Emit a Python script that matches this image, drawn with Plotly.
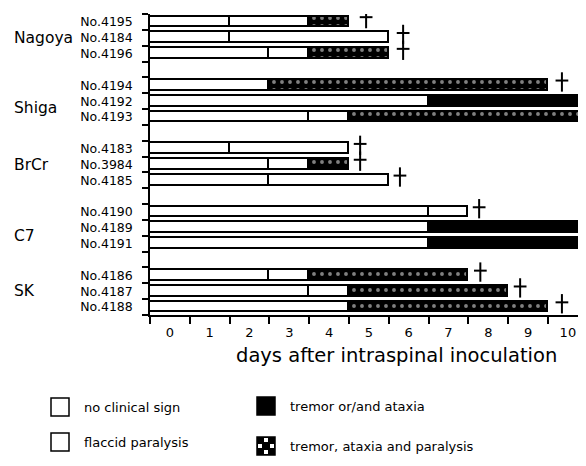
import plotly.graph_objects as go

# ---------------- data ----------------
groups = ["Nagoya", "Shiga", "BrCr", "C7", "SK"]
animals = [
    ["No.4195", "No.4184", "No.4196"],
    ["No.4194", "No.4192", "No.4193"],
    ["No.4183", "No.3984", "No.4185"],
    ["No.4190", "No.4189", "No.4191"],
    ["No.4186", "No.4187", "No.4188"],
]
# duration (days) of each clinical state, animals in row order (top to bottom)
no_sign = [2, 2, 3, 3, 7, 4, 2, 3, 3, 7, 7, 7, 3, 4, 5]
flaccid = [2, 4, 1, None, None, 1, 3, 1, 3, 1, None, None, 1, 1, None]
tremor = [None, None, None, None, 4, None, None, None, None, None, 4, 4, None, None, None]
tremor_par = [1, None, 2, 7, None, 6, None, 1, None, None, None, None, 4, 4, 5]
# position of the death mark (+) on the day axis
death_x = [5.43, 6.36, 6.36, 10.35, None, None, 5.28, 5.28, 6.28, 8.27, None, None, 8.3, 9.3, 10.35]
days = list(range(0, 11))

legend_items = ["no clinical sign", "flaccid paralysis", "tremor or/and ataxia", "tremor, ataxia and paralysis"]

# ---------------- layout constants ----------------
OFF = 8                      # page body margin of the html page
W, H = 586 - OFF, 466 - OFF
L, R, T, B = 150 - OFF, 0, 14 - OFF, 466 - 315
PW, PH = W - L - R, H - T - B
XMAX = 10.955
NSLOT = 19
FONT = "DejaVu Sans"
GROUP_LABEL_SHIFT = [0, 0.45, 0, 0.5, 0]   # vertical nudge of group names (in rows)

def px2paper(px, py):
    """reference-picture pixel -> paper coordinates"""
    return (px - OFF - L) / PW, (H + OFF - B - py) / PH

labels, ypos = [], []
for g, names in enumerate(animals):
    for r, n in enumerate(names):
        labels.append(n)
        ypos.append(4 * g + r + 0.5)

fig = go.Figure()
line = dict(color="black", width=1.7)
BW = 0.68
fig.add_trace(go.Bar(y=ypos, x=no_sign, orientation="h", width=BW, name=legend_items[0],
                     marker=dict(color="white", line=line), showlegend=False))
fig.add_trace(go.Bar(y=ypos, x=flaccid, orientation="h", width=BW, name=legend_items[1],
                     marker=dict(color="white", line=line), showlegend=False))
fig.add_trace(go.Bar(y=ypos, x=tremor, orientation="h", width=BW, name=legend_items[2],
                     marker=dict(color="black", line=line), showlegend=False))
fig.add_trace(go.Bar(y=ypos, x=tremor_par, orientation="h", width=BW, name=legend_items[3],
                     marker=dict(color="black", line=line,
                                 pattern=dict(shape=".", bgcolor="black", fgcolor="white",
                                              size=8, solidity=0.18)),
                     showlegend=False))

# death crosses
cx, cy = [], []
for d, c in zip(death_x, ypos):
    if d is None:
        continue
    cx += [d, d, None, d - 0.16, d + 0.16, None]
    cy += [c - 0.82, c + 0.4, None, c - 0.3, c - 0.3, None]
fig.add_trace(go.Scatter(x=cx, y=cy, mode="lines", line=dict(color="black", width=2),
                         showlegend=False, hoverinfo="skip", cliponaxis=False))

fig.update_layout(
    width=W, height=H, margin=dict(l=L, r=R, t=T, b=B, autoexpand=False),
    paper_bgcolor="white", plot_bgcolor="white", barmode="stack", bargap=0,
    font=dict(family=FONT, color="black"),
    showlegend=False,
)
fig.update_xaxes(
    range=[0, XMAX], showgrid=False, zeroline=False, showline=True, linecolor="black", linewidth=1.5,
    tickmode="array", tickvals=[d + 0.5 for d in days], ticktext=[str(d) for d in days],
    ticks="", tickfont=dict(size=13, family=FONT), ticklabelstandoff=5,
    minor=dict(tickmode="array", tickvals=list(range(0, 12)), ticks="outside", ticklen=7,
               tickwidth=1.5, tickcolor="black", showgrid=False),
)
fig.update_yaxes(
    range=[NSLOT, 0], showgrid=False, zeroline=False, showline=True, linecolor="black", linewidth=1.5,
    tickmode="array", tickvals=ypos, ticktext=labels, ticks="",
    tickfont=dict(size=12.5, family=FONT), ticklabelstandoff=13,
    minor=dict(tickmode="array", tickvals=list(range(0, NSLOT + 1)), ticks="outside", ticklen=6,
               tickwidth=1.5, tickcolor="black", showgrid=False),
)

ann = []
# group labels
for g, name in enumerate(groups):
    gx, _ = px2paper(12, 0)
    ann.append(dict(x=gx, xref="paper", y=4 * g + 1.5 + GROUP_LABEL_SHIFT[g], yref="y", text=name,
                    showarrow=False, xanchor="left", yanchor="middle", font=dict(size=15.5, family=FONT)))
# axis title
tx, ty = px2paper(396, 355)
ann.append(dict(x=tx, y=ty, xref="paper", yref="paper", text="days after intraspinal inoculation",
                showarrow=False, xanchor="center", yanchor="middle", font=dict(size=19.5, family=FONT)))

# custom legend
shapes = []
leg_pos = [(51, 407), (51, 442), (257, 406), (257, 446)]
fills = ["white", "white", "black", "black"]
BOX = 18
for (bx, by), txt, f in zip(leg_pos, legend_items, fills):
    x0, y0 = px2paper(bx, by + BOX / 2)
    x1, y1 = px2paper(bx + BOX, by - BOX / 2)
    shapes.append(dict(type="rect", xref="paper", yref="paper", x0=x0, y0=y0, x1=x1, y1=y1,
                       fillcolor=f, line=dict(color="black", width=1.5)))
    lx, ly = px2paper(bx + 31, by)
    ann.append(dict(x=lx, y=ly, xref="paper", yref="paper", text=txt, showarrow=False,
                    xanchor="left", yanchor="middle", font=dict(size=13, family=FONT)))
# checker squares for the last legend box
bx, by = leg_pos[3]
s = BOX / 3
for (i, j) in [(1, 0), (0, 1), (2, 1), (1, 2)]:
    x0, y0 = px2paper(bx + i * s + 1, by - BOX / 2 + (j + 1) * s - 1)
    x1, y1 = px2paper(bx + (i + 1) * s - 1, by - BOX / 2 + j * s + 1)
    shapes.append(dict(type="rect", xref="paper", yref="paper", x0=x0, y0=y0, x1=x1, y1=y1,
                       fillcolor="white", line=dict(width=0)))

fig.update_layout(annotations=ann, shapes=shapes)
fig.write_html("out.html")
